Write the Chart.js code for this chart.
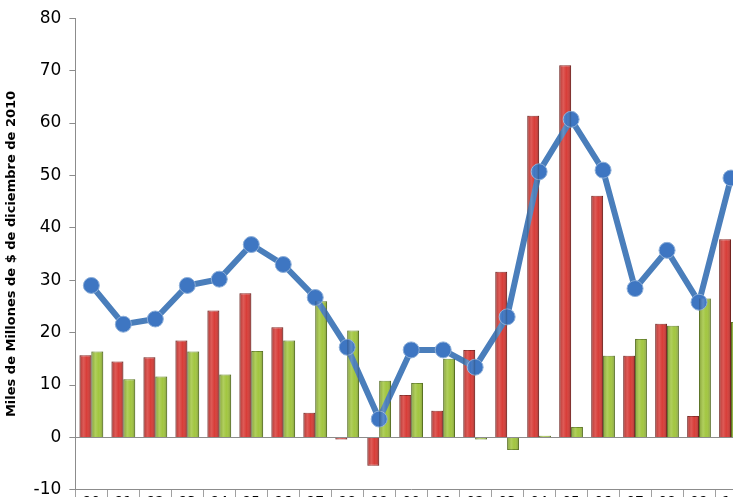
<!DOCTYPE html>
<html lang="es"><head>
<meta charset="UTF-8">
<title>Miles de Millones de $ de diciembre de 2010</title>
<script src="https://cdn.jsdelivr.net/npm/chart.js@4.4.1/dist/chart.umd.min.js"></script>
<style>
  html, body { margin:0; padding:0; background:#FFFFFF; overflow:hidden; width:733px; height:497px; }
  #wrap { width:756px; height:508px; }
</style>
</head>
<body>
<div id="wrap"><canvas id="chart" width="756" height="508"></canvas></div>
<script>
// years 1990 - 2010
const labels = ['90','91','92','93','94','95','96','97','98','99','00','01','02','03','04','05','06','07','08','09','10'];
const redVals   = [15.7, 14.5, 15.3, 18.5, 24.2, 27.5, 21.0, 4.7, -0.4, -5.4, 8.1, 5.1, 16.7, 31.6, 61.4, 71.0, 46.1, 15.6, 21.7, 4.1, 37.8];
const greenVals = [16.4, 11.1, 11.6, 16.4, 12.0, 16.5, 18.5, 26.0, 20.4, 10.8, 10.4, 15.0, -0.4, -2.4, 0.3, 2.0, 15.6, 18.8, 21.3, 26.5, 22.0];
const lineVals  = [29.0, 21.6, 22.6, 29.0, 30.2, 36.8, 33.0, 26.7, 17.2, 3.5, 16.7, 16.7, 13.4, 23.0, 50.7, 60.7, 51.0, 28.4, 35.7, 25.8, 49.5];
const yTicks = [-10, 0, 10, 20, 30, 40, 50, 60, 70, 80];

// shading on top of the bars, gives them the round look
const shadeBars = {
  id: 'shadeBars',
  afterDatasetsDraw(chart) {
    const ctx = chart.ctx;
    chart.data.datasets.forEach((ds, i) => {
      if (ds.type !== 'bar') return;
      chart.getDatasetMeta(i).data.forEach(bar => {
        const left = bar.x - bar.width / 2;
        const top = Math.min(bar.y, bar.base);
        const h = Math.abs(bar.base - bar.y);
        const g = ctx.createLinearGradient(left, 0, left + bar.width, 0);
        g.addColorStop(0, 'rgba(0,0,0,0.22)');
        g.addColorStop(0.35, 'rgba(255,255,255,0.15)');
        g.addColorStop(0.6, 'rgba(255,255,255,0.0)');
        g.addColorStop(1, 'rgba(0,0,0,0.25)');
        ctx.save();
        ctx.fillStyle = g;
        ctx.fillRect(left, top, bar.width, h);
        ctx.restore();
      });
    });
  }
};

new Chart(document.getElementById('chart'), {
  data: {
    labels: labels,
    datasets: [
      {
        type: 'line',
        data: lineVals,
        borderColor: '#4A7EBB',
        borderWidth: 6,
        pointRadius: 8,
        pointBackgroundColor: '#3E76C2',
        pointBorderColor: '#8CAED8',
        pointBorderWidth: 1,
        tension: 0,
        order: 0
      },
      {
        type: 'bar',
        data: redVals,
        backgroundColor: '#D83D38',
        borderColor: '#8E2622',
        borderWidth: 1,
        categoryPercentage: 0.74,
        barPercentage: 1.0,
        order: 1
      },
      {
        type: 'bar',
        data: greenVals,
        backgroundColor: '#A2C640',
        borderColor: '#6A8A26',
        borderWidth: 1,
        categoryPercentage: 0.74,
        barPercentage: 1.0,
        order: 1
      }
    ]
  },
  options: {
    responsive: false,
    animation: false,
    layout: { padding: { top: 8, left: 4, right: 0, bottom: 0 } },
    plugins: { legend: { display: false }, tooltip: { enabled: false } },
    scales: {
      x: {
        offset: true,
        grid: { offset: true, drawOnChartArea: false, drawTicks: true, tickLength: 10, color: '#A0A0A0' },
        border: { color: '#8C8C8C', width: 1 },
        ticks: { color: '#000000', font: { family: 'DejaVu Sans', size: 14 }, padding: -6, maxRotation: 0, autoSkip: false }
      },
      y: {
        min: -10,
        max: 80,
        afterBuildTicks: (axis) => { axis.ticks = yTicks.map(v => ({ value: v })); },
        grid: {
          color: (c) => (c.tick && c.tick.value === 0 ? '#8C8C8C' : 'rgba(0,0,0,0)'),
          tickColor: '#8C8C8C',
          tickLength: 6,
          lineWidth: 1
        },
        border: { color: '#8C8C8C', width: 1 },
        ticks: { color: '#000000', font: { family: 'DejaVu Sans', size: 17 }, padding: 8 },
        title: {
          display: true,
          text: 'Miles de Millones de $ de diciembre de 2010',
          color: '#000000',
          font: { family: 'DejaVu Sans', size: 13, weight: 'bold' },
          padding: { top: 0, bottom: 6 }
        }
      }
    }
  },
  plugins: [shadeBars]
});
</script>
</body></html>
